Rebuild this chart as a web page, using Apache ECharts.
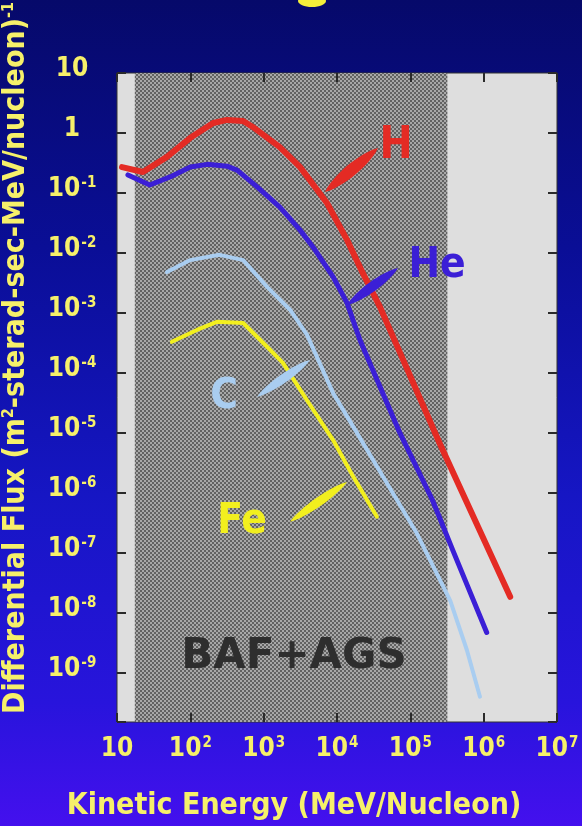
<!DOCTYPE html>
<html>
<head>
<meta charset="utf-8">
<style>
  html, body { margin: 0; padding: 0; background: #06096a; }
  #chart { width: 582px; height: 826px; }
</style>
<script src="https://cdn.jsdelivr.net/npm/echarts@6/dist/echarts.min.js"></script>
</head>
<body>
<div id="chart"></div>
<script>
// Differential flux of cosmic-ray nuclei vs kinetic energy per nucleon.
// Each point: [kinetic energy (MeV/nucleon), flux (m^2 sr s MeV/nucleon)^-1]
const hydrogenFlux = [
  [11.7, 0.27], [22.6, 0.224], [48, 0.4], [100, 0.83], [205, 1.47], [316, 1.65],
  [525, 1.58], [710, 1.26], [1660, 0.58], [3140, 0.27], [7300, 0.068],
  [13700, 0.0165], [22500, 0.0046], [38500, 0.00126], [2.5e5, 6.8e-6], [2.3e6, 1.85e-8]
];
const heliumFlux = [
  [14.1, 0.2], [28, 0.136], [53, 0.185], [100, 0.27], [170, 0.30], [316, 0.28],
  [434, 0.24], [815, 0.126], [1660, 0.058], [3140, 0.024], [4700, 0.0126],
  [8850, 0.004], [13700, 0.00147], [20600, 3.5e-4], [72000, 1e-5], [2e5, 7.6e-7],
  [3.8e5, 1.1e-7], [1.1e6, 4.7e-9]
];
const carbonFlux = [
  [48, 0.0048], [100, 0.0076], [250, 0.0093], [525, 0.0076], [1120, 0.0027],
  [2300, 0.00112], [3900, 4.3e-4], [8850, 4.6e-5], [16700, 1.26e-5], [42500, 1.85e-6],
  [1.23e5, 2.1e-7], [3.5e5, 1.6e-8], [5.9e5, 2.4e-9], [8.9e5, 4e-10]
];
const ironFlux = [
  [56, 3.3e-4], [123, 5.2e-4], [230, 7.1e-4], [525, 6.8e-4], [1120, 2.7e-4],
  [1830, 1.47e-4], [3900, 3.5e-5], [8850, 7.6e-6], [16700, 1.85e-6], [35000, 4e-7]
];

// Energy band covered by the BAF+AGS instruments (MeV/nucleon)
const coverageBand = [17.5, 3.2e5];

// Decade exponents that carry tick labels
const energyTickExponents = [1, 2, 3, 4, 5, 6, 7];
const fluxTickExponents = [1, 0, -1, -2, -3, -4, -5, -6, -7, -8, -9];
// Flux range shown, as decade exponents
const fluxRange = [-9.82, 1];

// Species labels and their pointers, in data space [log10 E, log10 F]
const speciesNotes = [
  { text: 'H',  color: '#e42b24', label: [4.805, -0.233], from: [3.837, -0.983], to: [4.559, -0.25], width: 12, size: 44 },
  { text: 'He', color: '#3b1fd6', label: [5.364, -2.217], from: [4.137, -2.867], to: [4.832, -2.25], width: 10, size: 42 },
  { text: 'C',  color: '#a9cdf0', label: [2.459, -4.40],  from: [3.632, -3.783], to: [2.909, -4.40], width: 9, size: 42 },
  { text: 'Fe', color: '#f2ef1e', label: [2.705, -6.483], from: [4.137, -5.817], to: [3.359, -6.483], width: 9, size: 42 }
];
const bandLabel = { text: 'BAF+AGS', at: [3.414, -8.733] };

const textYellow = '#f6f06a';
const condensed = "'DejaVu Sans Condensed', 'DejaVu Sans', sans-serif";

function decadeText(e) {
  if (e === 0) return '{b|1}';
  if (e === 1) return '{b|10}';
  return '{b|10}{s|' + e + '}';
}
// energy axis is logarithmic: labels receive the energy value
function energyLabel(v) {
  const lg = Math.log10(v), e = Math.round(lg);
  if (Math.abs(lg - e) > 1e-6 || energyTickExponents.indexOf(e) < 0) return '';
  return decadeText(e);
}
// flux axis runs in decades: labels receive the exponent
function fluxLabel(v) {
  const e = Math.round(v);
  if (Math.abs(v - e) > 1e-6 || fluxTickExponents.indexOf(e) < 0) return '';
  return decadeText(e);
}

const labelRich = {
  b: { fontSize: 26, fontWeight: 'bold', color: textYellow, fontFamily: condensed },
  s: { fontSize: 15, fontWeight: 'bold', color: textYellow, fontFamily: condensed, verticalAlign: 'top', padding: [0, 0, 10, 1] }
};

function hatchPattern() {
  const c = document.createElement('canvas');
  c.width = 4; c.height = 4;
  const g = c.getContext('2d');
  g.fillStyle = '#626262'; g.fillRect(0, 0, 4, 4);
  g.fillStyle = '#a8a8a8'; g.fillRect(0, 0, 2, 2); g.fillRect(2, 2, 2, 2);
  return c;
}

const tickStyle = { show: true, inside: true, length: 9, lineStyle: { color: '#2a2a2a', width: 2 } };

function energyAxis(pos, showLabels) {
  return {
    type: 'log', logBase: 10, min: 10, max: 1e7, splitNumber: 6, position: pos, z: 6,
    axisLine: { show: false, onZero: false }, axisTick: tickStyle, splitLine: { show: false },
    minorTick: { show: false }, minorSplitLine: { show: false },
    axisLabel: { show: showLabels, formatter: energyLabel, rich: labelRich, margin: 14 }
  };
}
function fluxAxis(pos, showLabels) {
  return {
    type: 'value', min: fluxRange[0], max: fluxRange[1], splitNumber: 11, position: pos, z: 6,
    axisLine: { show: false, onZero: false }, axisTick: tickStyle, splitLine: { show: false },
    minorTick: { show: false }, minorSplitLine: { show: false },
    axisLabel: { show: showLabels, formatter: fluxLabel, rich: labelRich, margin: 45, align: 'center', padding: [0, 0, 8, 0] }
  };
}

function decades(data) {
  return data.map(function (d) { return [d[0], Math.log10(d[1])]; });
}
function lineSeries(name, data, color, width) {
  return {
    name: name, type: 'line', data: decades(data), showSymbol: false, smooth: false,
    lineStyle: { color: color, width: width, cap: 'round', join: 'round' },
    itemStyle: { color: color }, z: 3, silent: true
  };
}

const chart = echarts.init(document.getElementById('chart'), null, { renderer: 'canvas' });

chart.setOption({
  animation: false,
  backgroundColor: {
    type: 'linear', x: 0, y: 0, x2: 0, y2: 1,
    colorStops: [
      { offset: 0, color: '#06096a' },
      { offset: 0.3, color: '#0a0e96' },
      { offset: 0.6, color: '#1616c4' },
      { offset: 0.85, color: '#2814dc' },
      { offset: 1, color: '#4410ee' }
    ]
  },
  grid: { left: 117, right: 25, top: 73, bottom: 104, show: true, backgroundColor: '#dedede', borderColor: '#333', borderWidth: 1 },
  xAxis: [energyAxis('bottom', true), energyAxis('top', false)],
  yAxis: [fluxAxis('left', true), fluxAxis('right', false)],
  series: [
    {
      type: 'line', data: [], silent: true,
      markArea: {
        silent: true,
        itemStyle: { color: { image: hatchPattern(), repeat: 'repeat' } },
        data: [[{ xAxis: coverageBand[0] }, { xAxis: coverageBand[1] }]]
      }
    },
    lineSeries('H', hydrogenFlux, '#e42b24', 6),
    lineSeries('He', heliumFlux, '#3b1fd6', 5),
    lineSeries('C', carbonFlux, '#a9cdf0', 4),
    lineSeries('Fe', ironFlux, '#f2ef1e', 4)
  ]
});

// Pointers, species names and the band name, placed through the axes.
function toPx(lg) {
  return chart.convertToPixel({ xAxisIndex: 0, yAxisIndex: 0 }, [Math.pow(10, lg[0]), lg[1]]);
}
function spindle(p0, p1, w) {
  const dx = p1[0] - p0[0], dy = p1[1] - p0[1];
  const len = Math.hypot(dx, dy);
  const nx = -dy / len, ny = dx / len;
  const n = 14, left = [], right = [];
  for (let i = 0; i <= n; i++) {
    const t = i / n;
    const half = (w / 2) * Math.pow(Math.sin(Math.PI * t), 0.7);
    const cx = p0[0] + dx * t, cy = p0[1] + dy * t;
    left.push([cx + nx * half, cy + ny * half]);
    right.unshift([cx - nx * half, cy - ny * half]);
  }
  return left.concat(right);
}

const graphics = [];
speciesNotes.forEach(function (s) {
  graphics.push({
    type: 'polygon', silent: true, z: 10,
    shape: { points: spindle(toPx(s.from), toPx(s.to), s.width) },
    style: { fill: s.color }
  });
  const p = toPx(s.label);
  graphics.push({
    type: 'text', silent: true, z: 10, x: p[0], y: p[1],
    style: { text: s.text, fill: s.color, font: 'bold ' + s.size + 'px ' + condensed, textAlign: 'center', textVerticalAlign: 'middle' }
  });
});
const bp = toPx(bandLabel.at);
graphics.push({
  type: 'text', silent: true, z: 10, x: bp[0], y: bp[1],
  style: { text: bandLabel.text, fill: '#2e2e2e', font: "bold 42px 'DejaVu Sans', sans-serif", textAlign: 'center', textVerticalAlign: 'middle' }
});

// Axis titles
graphics.push({
  type: 'text', silent: true, x: 294, y: 806,
  style: { text: 'Kinetic Energy (MeV/Nucleon)', fill: textYellow, font: 'bold 30px ' + condensed, textAlign: 'center', textVerticalAlign: 'middle' }
});
graphics.push({
  type: 'text', silent: true, x: 16, y: 358, rotation: Math.PI / 2,
  style: {
    text: '{n|Differential Flux (m}{s|2}{n|-sterad-sec-MeV/nucleon)}{s|-1}',
    textAlign: 'center', textVerticalAlign: 'middle',
    rich: {
      n: { fontSize: 30, fontWeight: 'bold', fill: textYellow, color: textYellow, fontFamily: condensed },
      s: { fontSize: 16, fontWeight: 'bold', fill: textYellow, color: textYellow, fontFamily: condensed, verticalAlign: 'top', padding: [0, 0, 12, 0] }
    }
  }
});
// Lower edge of the heading glyph above the chart
graphics.push({
  type: 'ellipse', silent: true, shape: { cx: 312, cy: 1, rx: 14, ry: 6 },
  style: { fill: '#f4ee3a' }
});

chart.setOption({ graphic: graphics });
</script>
</body>
</html>
